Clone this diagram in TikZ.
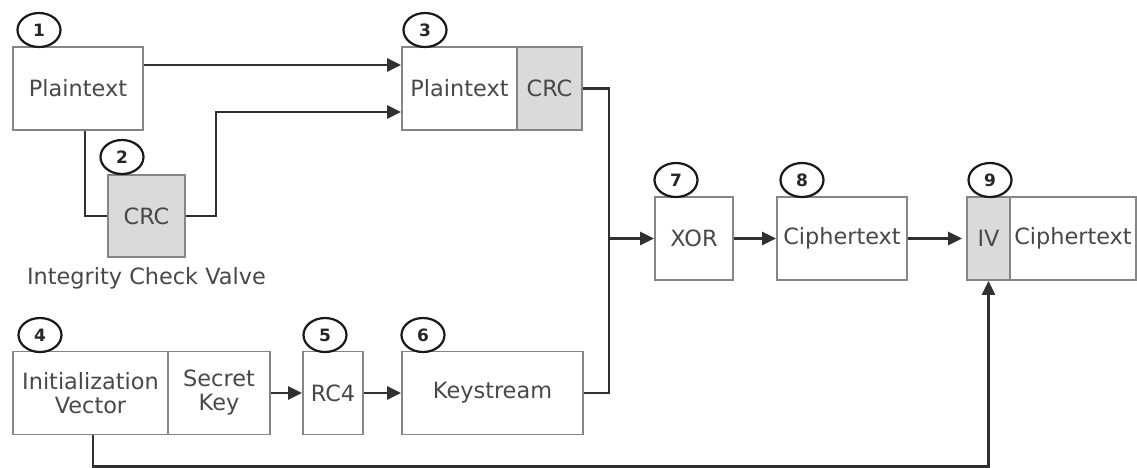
\documentclass[tikz,border=0pt]{standalone}
\usepackage{fontspec}
\setmainfont{DejaVu Sans}
\usetikzlibrary{arrows.meta,shapes.geometric,calc}
\definecolor{boxline}{HTML}{858585}
\definecolor{txt}{HTML}{484848}
\definecolor{conn}{HTML}{303030}
\definecolor{crcfill}{HTML}{DADADA}
\tikzset{
  box/.style={draw=boxline, line width=1.7pt, fill=white, text=txt, inner sep=0pt,
    font=\fontsize{22.4}{24}\selectfont, align=center, minimum height=83pt},
  graybox/.style={box, fill=crcfill},
  numc/.style={ellipse, draw=black!90, line width=2.2pt, minimum width=43pt, minimum height=34pt,
    inner sep=0pt, font=\bfseries\fontsize{17}{17}\selectfont, text=black!85, fill=white},
  arr/.style={draw=conn, line width=2.7pt, -{Triangle[length=14pt,width=13pt]}},
  wire/.style={draw=conn, line width=2.7pt},
  lbl/.style={text=txt, font=\fontsize{22.4}{24}\selectfont, inner sep=0pt}
}
\begin{document}
\begin{tikzpicture}[x=1pt,y=-1pt]
\useasboundingbox (0,0) rectangle (1137,467);
% boxes
\node[box, minimum width=130pt] (b1) at (78,88.5) {Plaintext};
\node[graybox, minimum width=77pt, minimum height=82pt] (b2) at (146.5,216) {CRC};
\node[lbl] (icv) at (146.5,278) {Integrity Check Valve};
\node[box, minimum width=115pt] (b3a) at (459.5,88.5) {Plaintext};
\node[graybox, minimum width=65pt] (b3b) at (549.5,88.5) {CRC};
\node[box, minimum width=155pt] (b4a) at (90.5,393) {Initialization\\Vector};
\node[box, minimum width=102pt] (b4b) at (219,393) {Secret\\Key};
\node[box, minimum width=60pt] (b5) at (333,393) {RC4};
\node[box, minimum width=181pt] (b6) at (492.5,393) {Keystream};
\node[box, minimum width=78pt] (b7) at (694,238.5) {XOR};
\node[box, minimum width=130pt] (b8) at (842,238.5) {Ciphertext};
\node[graybox, minimum width=43pt] (b9a) at (988.5,238.5) {IV};
\node[box, minimum width=126pt] (b9b) at (1073,238.5) {Ciphertext};
% number circles
\node[numc] (c1) at (39,30) {1};
\node[numc] (c2) at (122,157) {2};
\node[numc] (c3) at (425,30) {3};
\node[numc] (c4) at (40,335) {4};
\node[numc] (c5) at (325,335) {5};
\node[numc] (c6) at (423,335) {6};
\node[numc] (c7) at (676,180) {7};
\node[numc] (c8) at (802,180) {8};
\node[numc] (c9) at (990,180) {9};
% connectors
\draw[arr] ([yshift=23.5pt]b1.east) -- ([yshift=23.5pt]b3a.west);
\draw[wire] ([xshift=7pt]b1.south) |- (b2.west);
\draw[arr] (b2.east) -- ++(30,0) |- ([yshift=-23.5pt]b3a.west);
\coordinate (j) at (609,238.5);
\draw[wire] (b3b.east) -| (j);
\draw[wire] (b6.east) -| (j);
\draw[arr] (j) -- (b7.west);
\draw[arr] (b7.east) -- (b8.west);
\draw[arr] (b8.east) -- ([xshift=-4pt]b9a.west);
\draw[arr] (b4b.east) -- (b5.west);
\draw[arr] (b5.east) -- (b6.west);
\draw[arr] ([xshift=2.5pt]b4a.south) -- ++(0,31) -| (b9a.south);
\end{tikzpicture}
\end{document}
